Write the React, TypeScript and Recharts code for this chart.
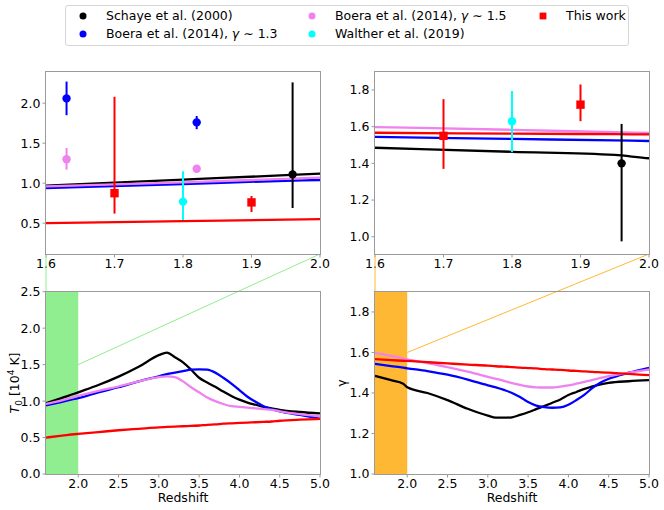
import React from "react";
import {
  ComposedChart,
  Line,
  Scatter,
  XAxis,
  YAxis,
  ErrorBar,
  ReferenceArea,
  ReferenceLine,
} from "recharts";

// model curves on a shared redshift grid
const REDSHIFT = [
  1.6, 1.8, 1.95, 2.0, 2.25, 2.5, 2.75, 3.0, 3.1, 3.2, 3.3, 3.4, 3.5, 3.6, 3.7,
  3.8, 3.9, 4.0, 4.1, 4.2, 4.3, 4.4, 4.5, 4.75, 5.0,
];

const T0_SCHAYE_MODEL = [
  0.97, 1.045, 1.1, 1.12, 1.22, 1.335, 1.47, 1.63, 1.665, 1.6, 1.53, 1.43, 1.32,
  1.255, 1.195, 1.13, 1.07, 1.02, 0.98, 0.95, 0.92, 0.9, 0.88, 0.85, 0.83,
];
const T0_BOERA13_MODEL = [
  0.94, 0.99, 1.03, 1.04, 1.12, 1.19, 1.27, 1.34, 1.37, 1.39, 1.41, 1.43, 1.435,
  1.43, 1.39, 1.32, 1.24, 1.15, 1.06, 0.99, 0.93, 0.89, 0.86, 0.81, 0.76,
];
const T0_BOERA15_MODEL = [
  0.96, 1.01, 1.055, 1.07, 1.14, 1.2, 1.27, 1.33, 1.34, 1.33, 1.27, 1.19, 1.12,
  1.05, 1.0, 0.96, 0.93, 0.92, 0.91, 0.9, 0.89, 0.88, 0.86, 0.82, 0.79,
];
const T0_THIS_MODEL = [
  0.5, 0.525, 0.545, 0.55, 0.575, 0.6, 0.62, 0.64, 0.645, 0.65, 0.655, 0.66,
  0.665, 0.675, 0.68, 0.69, 0.695, 0.7, 0.705, 0.71, 0.715, 0.72, 0.73, 0.745,
  0.755,
];

const GAMMA_SCHAYE_MODEL = [
  1.485, 1.463, 1.446, 1.428, 1.4, 1.365, 1.322, 1.288, 1.278, 1.278, 1.28,
  1.292, 1.305, 1.32, 1.335, 1.352, 1.368, 1.39, 1.405, 1.42, 1.433, 1.443,
  1.45, 1.458, 1.463,
];
const GAMMA_BOERA13_MODEL = [
  1.544, 1.533, 1.525, 1.522, 1.508, 1.49, 1.466, 1.438, 1.428, 1.415, 1.4,
  1.38, 1.355, 1.338, 1.33, 1.327, 1.329, 1.342, 1.365, 1.392, 1.425, 1.452,
  1.47, 1.5, 1.524,
];
const GAMMA_BOERA15_MODEL = [
  1.598, 1.583, 1.57, 1.566, 1.548, 1.528, 1.505, 1.48, 1.47, 1.46, 1.449, 1.44,
  1.432, 1.428, 1.427, 1.427, 1.431, 1.437, 1.446, 1.455, 1.465, 1.474, 1.483,
  1.5, 1.516,
];
const GAMMA_THIS_MODEL = [
  1.567, 1.562, 1.559, 1.558, 1.552, 1.546, 1.54, 1.535, 1.532, 1.53, 1.528,
  1.525, 1.523, 1.521, 1.518, 1.516, 1.514, 1.511, 1.509, 1.507, 1.504, 1.502,
  1.5, 1.494, 1.488,
];

// measurements, errors are [down, up]
const SCHAYE_Z = [1.96];
const SCHAYE_T0 = [1.11];
const SCHAYE_T0_ERR = [[0.42, 1.15]];
const SCHAYE_GAMMA = [1.4];
const SCHAYE_GAMMA_ERR = [[0.425, 0.215]];

const BOERA13_Z = [1.63, 1.82];
const BOERA13_T0 = [2.06, 1.76];
const BOERA13_T0_ERR = [[0.21, 0.21], [0.085, 0.08]];

const BOERA15_Z = [1.63, 1.82];
const BOERA15_T0 = [1.3, 1.18];
const BOERA15_T0_ERR = [[0.13, 0.14], [0.04, 0.04]];

const WALTHER_Z = [1.8];
const WALTHER_T0 = [0.77];
const WALTHER_T0_ERR = [[0.23, 0.38]];
const WALTHER_GAMMA = [1.63];
const WALTHER_GAMMA_ERR = [[0.17, 0.165]];

const THIS_Z = [1.7, 1.9];
const THIS_T0 = [0.875, 0.76];
const THIS_T0_ERR = [[0.255, 1.205], [0.12, 0.08]];
const THIS_GAMMA = [1.55, 1.72];
const THIS_GAMMA_ERR = [[0.18, 0.2], [0.09, 0.11]];

const ZOOM_TICKS = [1.6, 1.7, 1.8, 1.9, 2.0];
const FULL_TICKS = [2.0, 2.5, 3.0, 3.5, 4.0, 4.5, 5.0];
const T0_ZOOM_TICKS = [0.5, 1.0, 1.5, 2.0];
const T0_FULL_TICKS = [0.0, 0.5, 1.0, 1.5, 2.0, 2.5];
const GAMMA_TICKS = [1.0, 1.2, 1.4, 1.6, 1.8];

const FONT = "DejaVu Sans, sans-serif";
const GREY = "#9a9a9a";
const GREEN = "#90ee90";
const ORANGE = "#ffb833";
const C = {
  black: "#000000",
  blue: "#0000ff",
  violet: "#ee82ee",
  cyan: "#00ffff",
  red: "#ff0000",
};

// layout (px)
const PLOT_W = 274;
const TOP_PLOT = { top: 72, h: 182 };
const BOT_PLOT = { top: 291.7, h: 182.3 };
const GAP = BOT_PLOT.top - (TOP_PLOT.top + TOP_PLOT.h);

const curve = (vals: number[]) => REDSHIFT.map((z, i) => ({ z, v: vals[i] }));
const pts = (zs: number[], vs: number[], errs: number[][]) =>
  zs.map((z, i) => ({ z, v: vs[i], err: errs[i] }));

const dot = (color: string) => (p: any) =>
  p.cx == null ? <g /> : <circle cx={p.cx} cy={p.cy} r={4.2} fill={color} />;
const square = (color: string) => (p: any) =>
  p.cx == null ? (
    <g />
  ) : (
    <rect x={p.cx - 4.2} y={p.cy - 4.2} width={8.4} height={8.4} fill={color} />
  );

const tickStyle = { fontSize: 12.5, fill: "#000", fontFamily: FONT };
const fmt = (t: number) => t.toFixed(1);

function curves(models: [number[], string][]) {
  return models.map(([vals, color], i) => (
    <Line
      key={"c" + i}
      data={curve(vals)}
      dataKey="v"
      type="monotone"
      stroke={color}
      strokeWidth={2.3}
      dot={false}
      activeDot={false}
      isAnimationActive={false}
    />
  ));
}

function measured(
  key: string,
  data: { z: number; v: number; err: number[] }[],
  color: string,
  isSquare = false
) {
  return (
    <Scatter
      key={key}
      data={data}
      dataKey="v"
      shape={isSquare ? square(color) : dot(color)}
      isAnimationActive={false}
    >
      <ErrorBar dataKey="err" direction="y" width={0} stroke={color} strokeWidth={2} />
    </Scatter>
  );
}

function axes(
  xDomain: number[],
  xTicks: number[],
  yDomain: number[],
  yTicks: number[],
  yWidth: number,
  xHeight: number,
  xLabel?: string
) {
  return [
    <XAxis
      key="x"
      type="number"
      dataKey="z"
      domain={xDomain}
      ticks={xTicks}
      interval={0}
      allowDataOverflow
      tickFormatter={fmt}
      tick={tickStyle}
      tickSize={3.5}
      tickMargin={1.5}
      axisLine={false}
      tickLine={{ stroke: GREY }}
      height={xHeight}
      label={
        xLabel
          ? {
              value: xLabel,
              position: "insideBottom",
              offset: 8,
              fontSize: 12.5,
              fill: "#000",
              fontFamily: FONT,
            }
          : undefined
      }
    />,
    <YAxis
      key="y"
      type="number"
      dataKey="v"
      domain={yDomain}
      ticks={yTicks}
      interval={0}
      allowDataOverflow
      tickFormatter={fmt}
      tick={tickStyle}
      tickSize={3.5}
      tickMargin={2}
      axisLine={false}
      tickLine={{ stroke: GREY }}
      width={yWidth}
    />,
  ];
}

function Frame({ left, top, h }: { left: number; top: number; h: number }) {
  return (
    <div
      style={{
        position: "absolute",
        left: left - 0.7,
        top: top - 0.7,
        width: PLOT_W + 1.4,
        height: h + 1.4,
        border: `1.4px solid ${GREY}`,
        boxSizing: "border-box",
        pointerEvents: "none",
      }}
    />
  );
}

const LEGEND = [
  { label: <>Schaye et al. (2000)</>, color: C.black, sq: false, x: 83, y: 15.7 },
  {
    label: (
      <>
        Boera et al. (2014), <i>γ</i> ∼ 1.3
      </>
    ),
    color: C.blue,
    sq: false,
    x: 83,
    y: 34.3,
  },
  {
    label: (
      <>
        Boera et al. (2014), <i>γ</i> ∼ 1.5
      </>
    ),
    color: C.violet,
    sq: false,
    x: 312,
    y: 15.7,
  },
  { label: <>Walther et al. (2019)</>, color: C.cyan, sq: false, x: 312, y: 34.3 },
  { label: <>This work</>, color: C.red, sq: true, x: 543, y: 15.7 },
];

function Legend() {
  return (
    <>
      <div
        style={{
          position: "absolute",
          left: 65,
          top: 5,
          width: 564,
          height: 41,
          border: "1px solid #d6d6d6",
          borderRadius: 3,
          boxSizing: "border-box",
          background: "rgba(255,255,255,0.8)",
        }}
      />
      {LEGEND.map((item, i) => (
        <React.Fragment key={i}>
          <svg
            width={10}
            height={10}
            style={{ position: "absolute", left: item.x - 5, top: item.y - 5 }}
          >
            {item.sq ? (
              <rect x={1.6} y={1.6} width={6.8} height={6.8} fill={item.color} />
            ) : (
              <circle cx={5} cy={5} r={3.5} fill={item.color} />
            )}
          </svg>
          <div
            style={{
              position: "absolute",
              left: item.x + 23,
              top: item.y - 8,
              height: 16,
              lineHeight: "16px",
              fontSize: 12.5,
              whiteSpace: "nowrap",
            }}
          >
            {item.label}
          </div>
        </React.Fragment>
      ))}
    </>
  );
}

const yLabelStyle: React.CSSProperties = {
  position: "absolute",
  top: 383,
  transform: "translate(-50%, -50%) rotate(-90deg)",
  whiteSpace: "nowrap",
  fontSize: 12.5,
  lineHeight: "16px",
};

export default function App() {
  const t0Models: [number[], string][] = [
    [T0_SCHAYE_MODEL, C.black],
    [T0_BOERA13_MODEL, C.blue],
    [T0_BOERA15_MODEL, C.violet],
    [T0_THIS_MODEL, C.red],
  ];
  const gammaModels: [number[], string][] = [
    [GAMMA_SCHAYE_MODEL, C.black],
    [GAMMA_BOERA13_MODEL, C.blue],
    [GAMMA_BOERA15_MODEL, C.violet],
    [GAMMA_THIS_MODEL, C.red],
  ];

  // where the bottom edge of the zoom panels sits, in the lower panels' data units
  const t0Edge = 2.5 + GAP / (BOT_PLOT.h / 2.5);
  const gammaEdge = 1.9 + GAP / (BOT_PLOT.h / 0.9);

  const topMargin = { top: TOP_PLOT.top - 60, right: 10, bottom: 0, left: 0 };
  const botMargin = { top: BOT_PLOT.top - 254, right: 10, bottom: 0, left: 0 };

  return (
    <div
      style={{
        position: "relative",
        width: 664,
        height: 510,
        fontFamily: FONT,
        background: "#fff",
        overflow: "hidden",
      }}
    >
      <style>{`body{margin:0}`}</style>
      <Legend />

      {/* T0 zoom */}
      <div style={{ position: "absolute", left: 0, top: 60 }}>
        <ComposedChart width={330} height={214} margin={topMargin}>
          {axes([1.6, 2.0], ZOOM_TICKS, [0.115, 2.39], T0_ZOOM_TICKS, 46, 20)}
          {curves(t0Models)}
          {measured("s", pts(SCHAYE_Z, SCHAYE_T0, SCHAYE_T0_ERR), C.black)}
          {measured("b13", pts(BOERA13_Z, BOERA13_T0, BOERA13_T0_ERR), C.blue)}
          {measured("b15", pts(BOERA15_Z, BOERA15_T0, BOERA15_T0_ERR), C.violet)}
          {measured("w", pts(WALTHER_Z, WALTHER_T0, WALTHER_T0_ERR), C.cyan)}
          {measured("t", pts(THIS_Z, THIS_T0, THIS_T0_ERR), C.red, true)}
        </ComposedChart>
      </div>

      {/* gamma zoom */}
      <div style={{ position: "absolute", left: 330, top: 60 }}>
        <ComposedChart width={334} height={214} margin={{ ...topMargin, right: 15 }}>
          {axes([1.6, 2.0], ZOOM_TICKS, [0.906, 1.898], GAMMA_TICKS, 45, 20)}
          {curves(gammaModels)}
          {measured("w", pts(WALTHER_Z, WALTHER_GAMMA, WALTHER_GAMMA_ERR), C.cyan)}
          {measured("s", pts(SCHAYE_Z, SCHAYE_GAMMA, SCHAYE_GAMMA_ERR), C.black)}
          {measured("t", pts(THIS_Z, THIS_GAMMA, THIS_GAMMA_ERR), C.red, true)}
        </ComposedChart>
      </div>

      {/* T0 full range */}
      <div style={{ position: "absolute", left: 0, top: 254 }}>
        <ComposedChart width={330} height={256} margin={botMargin}>
          {axes([1.6, 5.0], FULL_TICKS, [0, 2.5], T0_FULL_TICKS, 46, 36, "Redshift")}
          <ReferenceArea x1={1.6} x2={2.0} fill={GREEN} fillOpacity={1} stroke="none" />
          {curves(t0Models)}
          <ReferenceLine
            segment={[
              { x: 1.6, y: 1.5 },
              { x: 1.6, y: t0Edge },
            ]}
            stroke={GREEN}
            strokeWidth={1}
            ifOverflow="visible"
          />
          <ReferenceLine
            segment={[
              { x: 2.0, y: 1.5 },
              { x: 5.0, y: t0Edge },
            ]}
            stroke={GREEN}
            strokeWidth={1}
            ifOverflow="visible"
          />
        </ComposedChart>
      </div>

      {/* gamma full range */}
      <div style={{ position: "absolute", left: 330, top: 254 }}>
        <ComposedChart width={334} height={256} margin={{ ...botMargin, right: 15 }}>
          {axes([1.6, 5.0], FULL_TICKS, [1.0, 1.9], GAMMA_TICKS, 45, 36, "Redshift")}
          <ReferenceArea x1={1.6} x2={2.0} fill={ORANGE} fillOpacity={1} stroke="none" />
          {curves(gammaModels)}
          <ReferenceLine
            segment={[
              { x: 1.6, y: 1.6 },
              { x: 1.6, y: gammaEdge },
            ]}
            stroke={ORANGE}
            strokeWidth={1}
            ifOverflow="visible"
          />
          <ReferenceLine
            segment={[
              { x: 2.0, y: 1.6 },
              { x: 5.0, y: gammaEdge },
            ]}
            stroke={ORANGE}
            strokeWidth={1}
            ifOverflow="visible"
          />
        </ComposedChart>
      </div>

      <Frame left={46} top={TOP_PLOT.top} h={TOP_PLOT.h} />
      <Frame left={375} top={TOP_PLOT.top} h={TOP_PLOT.h} />
      <Frame left={46} top={BOT_PLOT.top} h={BOT_PLOT.h} />
      <Frame left={375} top={BOT_PLOT.top} h={BOT_PLOT.h} />

      {/* y labels */}
      <div style={{ ...yLabelStyle, left: 15 }}>
        <span style={{ fontStyle: "italic" }}>T</span>
        <span style={{ fontSize: 9, position: "relative", top: 3 }}>0</span>
        <span> [10</span>
        <span style={{ fontSize: 9, position: "relative", top: -5 }}>4</span>
        <span> K]</span>
      </div>
      <div style={{ ...yLabelStyle, left: 342 }}>γ</div>
    </div>
  );
}
